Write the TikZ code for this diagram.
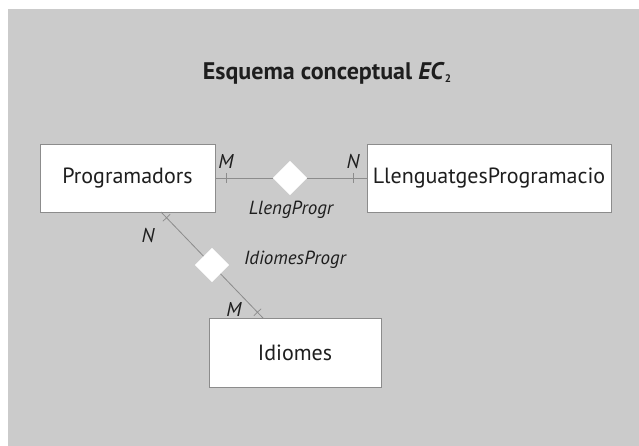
\documentclass[tikz,border=0pt]{standalone}
\usepackage{fontspec}
\setmainfont{PT Sans}
\usetikzlibrary{calc,shapes.geometric}
\definecolor{bggray}{HTML}{CBCBCB}
\definecolor{lngray}{HTML}{8C8C8C}
\definecolor{txt}{HTML}{1E1E1E}
\tikzset{
  entity/.style={draw=lngray, line width=0.8pt, fill=white, text=txt, inner sep=0pt, font=\fontsize{22}{24}\selectfont},
  relship/.style={diamond, fill=white, draw=none, minimum width=34pt, minimum height=34pt, inner sep=0pt},
  conn/.style={draw=lngray, line width=0.8pt},
  tickst/.style={draw=lngray, line width=0.7pt},
  card/.style={text=txt, font=\itshape\fontsize{20}{22}\selectfont, inner sep=0pt},
  rlabel/.style={text=txt, font=\itshape\fontsize{19}{21}\selectfont, inner sep=0pt},
}
\begin{document}
\begin{tikzpicture}[x=1pt,y=-1pt]
\useasboundingbox (0,0) rectangle (639,446);
\fill[white] (0,0) rectangle (639,446);
\fill[bggray] (8,9) rectangle (639,446);
\node[text=txt, font=\bfseries\fontsize{24}{26}\selectfont, inner sep=0pt] (title) at (327,73) {Esquema conceptual \textit{EC}\raisebox{-3pt}{\fontsize{11}{11}\selectfont 2}};
\node[entity, minimum width=175pt, minimum height=68pt] (prog) at (127.5,178) {Programadors};
\node[entity, minimum width=244pt, minimum height=68pt] (lleng) at (489,178) {LlenguatgesProgramacio};
\node[entity, minimum width=172pt, minimum height=69pt] (idi) at (295,352.5) {Idiomes};
\coordinate (p1) at (161,212);
\coordinate (i1) at (263,318);
\node[relship] (r1) at (290,178) {};
\node[relship] (r2) at ($(p1)!0.5!(i1)$) {};
\draw[conn] (prog.east) -- (r1) -- (lleng.west);
\draw[conn] (p1) -- (r2) -- (i1);
\node[relship] at (r1) {};
\node[relship] at (r2) {};
% ticks
\coordinate (ta) at ($(prog.east)!11pt!(r1)$);
\coordinate (tb) at ($(lleng.west)!13pt!(r1)$);
\coordinate (tc) at ($(p1)!8pt!(i1)$);
\coordinate (td) at ($(i1)!8pt!(p1)$);
\foreach \t/\o in {ta/r1,tb/r1,tc/i1,td/p1}{
  \draw[tickst] ($(\t)!5pt!90:(\o)$) -- ($(\t)!5pt!-90:(\o)$);
}
\node[card] (m1) at (226,162) {M};
\node[card] (n1) at (353,162) {N};
\node[rlabel] (l1) at (291,210) {LlengProgr};
\node[card] (n2) at (148,235) {N};
\node[card] (m2) at (234,309) {M};
\node[rlabel] (l2) at (295,260) {IdiomesProgr};
\end{tikzpicture}
\end{document}
